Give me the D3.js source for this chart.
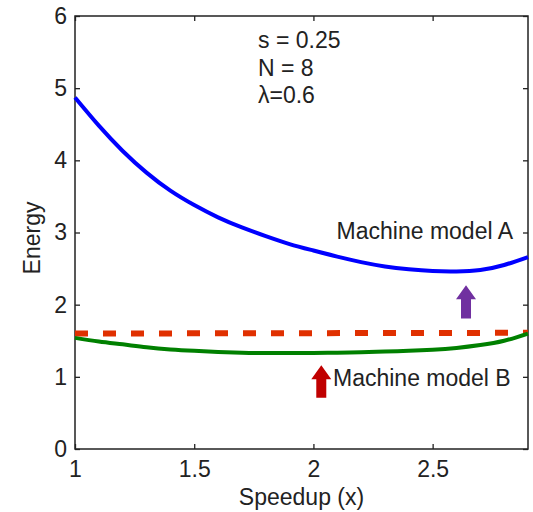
<!DOCTYPE html>
<html>
<head>
<meta charset="utf-8">
<script src="https://cdn.jsdelivr.net/npm/d3@7"></script>
<style>
  body { margin: 0; background: #fff; }
  svg { display: block; }
  text { font-family: "Liberation Sans", Arial, sans-serif; fill: #222; }
</style>
</head>
<body>
<svg id="chart" width="533" height="512"></svg>
<script>
// Energy vs. speedup for two machine models
const speedupA = [1.0, 1.1, 1.2, 1.3, 1.4, 1.5, 1.6, 1.7, 1.8, 1.9, 2.0, 2.1, 2.2, 2.3, 2.4, 2.5, 2.6, 2.7, 2.8, 2.9];
const energyA  = [4.87, 4.48, 4.13, 3.83, 3.58, 3.38, 3.21, 3.07, 2.95, 2.84, 2.75, 2.665, 2.59, 2.53, 2.49, 2.465, 2.46, 2.48, 2.55, 2.66];

const speedupB = [1.0, 1.1, 1.2, 1.3, 1.4, 1.5, 1.6, 1.7, 1.8, 1.9, 2.0, 2.1, 2.2, 2.3, 2.4, 2.5, 2.6, 2.7, 2.8, 2.9];
const energyB  = [1.54, 1.49, 1.45, 1.41, 1.38, 1.36, 1.345, 1.335, 1.33, 1.33, 1.33, 1.335, 1.34, 1.35, 1.36, 1.375, 1.40, 1.44, 1.50, 1.60];

const speedupRef = [1.0, 2.9];
const energyRef  = [1.60, 1.61];

const xTicks = [1, 1.5, 2, 2.5];
const yTicks = [0, 1, 2, 3, 4, 5, 6];
const params = ["s = 0.25", "N = 8", "\u03bb=0.6"];

(function draw() {
  const svg = d3.select("#chart");
  const mLeft = 75, mRight = 528, mTop = 16, mBottom = 449;

  const x = d3.scaleLinear().domain([1, 2.9]).range([mLeft, mRight]);
  const y = d3.scaleLinear().domain([0, 6]).range([mBottom, mTop]);

  const axisColor = "#222";
  const tickLen = 5;
  const fontSize = 23;

  // Frame
  svg.append("rect")
    .attr("x", mLeft).attr("y", mTop)
    .attr("width", mRight - mLeft).attr("height", mBottom - mTop)
    .attr("fill", "none").attr("stroke", axisColor).attr("stroke-width", 1.5);

  // Axes with inward ticks on all four sides
  const gx = svg.append("g").attr("transform", `translate(0,${mBottom})`)
    .call(d3.axisBottom(x).tickValues(xTicks).tickFormat(d3.format("")).tickSizeInner(-tickLen).tickSizeOuter(0).tickPadding(12));
  const gxTop = svg.append("g").attr("transform", `translate(0,${mTop})`)
    .call(d3.axisTop(x).tickValues(xTicks).tickFormat("").tickSizeInner(-tickLen).tickSizeOuter(0));
  const gy = svg.append("g").attr("transform", `translate(${mLeft},0)`)
    .call(d3.axisLeft(y).tickValues(yTicks).tickFormat(d3.format("d")).tickSizeInner(-tickLen).tickSizeOuter(0).tickPadding(8));
  const gyRight = svg.append("g").attr("transform", `translate(${mRight},0)`)
    .call(d3.axisRight(y).tickValues(yTicks).tickFormat("").tickSizeInner(-tickLen).tickSizeOuter(0));

  [gx, gxTop, gy, gyRight].forEach(g => {
    g.select(".domain").remove();
    g.selectAll(".tick line").attr("stroke", axisColor).attr("stroke-width", 1.3);
    g.selectAll(".tick text").attr("font-size", fontSize).attr("font-family", "Liberation Sans, Arial, sans-serif").attr("fill", "#222");
  });

  // Axis titles
  svg.append("text")
    .attr("x", (mLeft + mRight) / 2).attr("y", 505)
    .attr("text-anchor", "middle").attr("font-size", fontSize)
    .text("Speedup (x)");
  svg.append("text")
    .attr("transform", `translate(40,238) rotate(-90)`)
    .attr("text-anchor", "middle").attr("font-size", fontSize)
    .text("Energy");

  const zip = (a, b) => a.map((v, i) => [v, b[i]]);
  const smooth = d3.line().x(d => x(d[0])).y(d => y(d[1])).curve(d3.curveNatural);
  const straight = d3.line().x(d => x(d[0])).y(d => y(d[1]));

  // Curves
  svg.append("path").datum(zip(speedupRef, energyRef))
    .attr("d", straight).attr("fill", "none")
    .attr("stroke", "#e03000").attr("stroke-width", 6)
    .attr("stroke-dasharray", "13,15");

  svg.append("path").datum(zip(speedupB, energyB))
    .attr("d", smooth).attr("fill", "none")
    .attr("stroke", "#008000").attr("stroke-width", 4);

  svg.append("path").datum(zip(speedupA, energyA))
    .attr("d", smooth).attr("fill", "none")
    .attr("stroke", "#0000ff").attr("stroke-width", 4);

  // Block arrows
  function arrow(xv, y0, y1, color) {
    const cx = x(xv), yb = y(y0), yt = y(y1);
    const shaftW = 10, headW = 20, headH = 14;
    const pts = [
      [cx - shaftW / 2, yb], [cx - shaftW / 2, yt + headH], [cx - headW / 2, yt + headH],
      [cx, yt], [cx + headW / 2, yt + headH], [cx + shaftW / 2, yt + headH], [cx + shaftW / 2, yb]
    ];
    svg.append("polygon").attr("points", pts.map(p => p.join(",")).join(" ")).attr("fill", color);
  }
  arrow(2.033, 0.71, 1.16, "#c00000");
  arrow(2.64, 1.81, 2.27, "#7030a0");

  // Labels
  svg.append("text").attr("x", 513).attr("y", 239)
    .attr("text-anchor", "end").attr("font-size", fontSize).text("Machine model A");
  svg.append("text").attr("x", 333).attr("y", 386)
    .attr("text-anchor", "start").attr("font-size", fontSize).text("Machine model B");

  // Parameters
  params.forEach((t, i) => {
    svg.append("text").attr("x", 258).attr("y", 48 + i * 27.5)
      .attr("font-size", fontSize).text(t);
  });
})();
</script>
</body>
</html>
